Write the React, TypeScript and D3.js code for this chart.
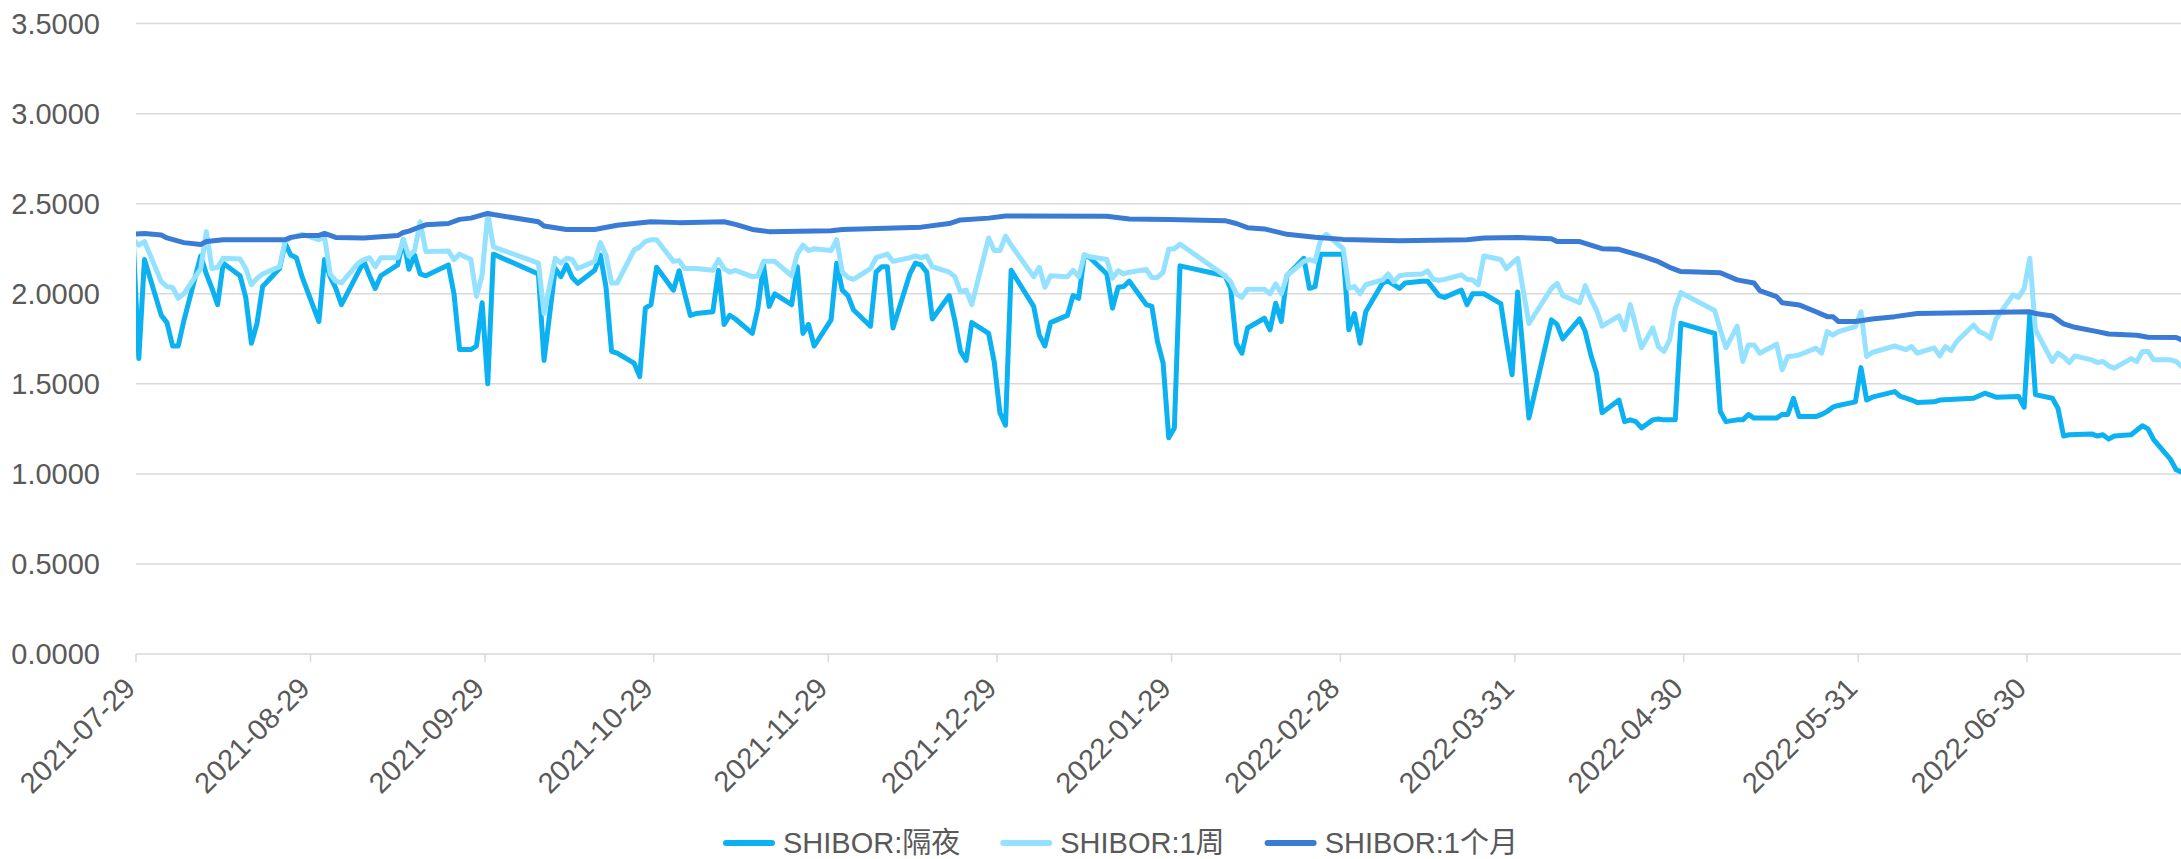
import React, { useEffect, useRef } from 'react';
import * as d3 from 'd3';

type Point = [string, number];

// SHIBOR overnight
const overnight: Point[] = [
  ['2021-07-28', 2.30], ['2021-07-29', 1.64], ['2021-07-30', 2.19], ['2021-08-02', 1.88], ['2021-08-03', 1.84],
  ['2021-08-04', 1.71], ['2021-08-05', 1.71], ['2021-08-06', 1.85], ['2021-08-09', 2.21], ['2021-08-10', 2.11],
  ['2021-08-11', 2.03], ['2021-08-12', 1.94], ['2021-08-13', 2.17], ['2021-08-16', 2.10], ['2021-08-17', 1.98],
  ['2021-08-18', 1.725], ['2021-08-19', 1.835], ['2021-08-20', 2.04], ['2021-08-23', 2.14], ['2021-08-24', 2.28],
  ['2021-08-25', 2.215], ['2021-08-26', 2.20], ['2021-08-27', 2.095], ['2021-08-30', 1.846], ['2021-08-31', 2.19],
  ['2021-09-01', 2.095], ['2021-09-02', 2.03], ['2021-09-03', 1.94], ['2021-09-06', 2.12], ['2021-09-07', 2.18],
  ['2021-09-08', 2.10], ['2021-09-09', 2.03], ['2021-09-10', 2.10], ['2021-09-13', 2.16], ['2021-09-14', 2.30],
  ['2021-09-15', 2.136], ['2021-09-16', 2.215], ['2021-09-17', 2.11], ['2021-09-18', 2.10], ['2021-09-22', 2.16],
  ['2021-09-23', 2.00], ['2021-09-24', 1.69], ['2021-09-26', 1.69], ['2021-09-27', 1.71], ['2021-09-28', 1.95],
  ['2021-09-29', 1.50], ['2021-09-30', 2.22], ['2021-10-08', 2.11], ['2021-10-09', 1.63], ['2021-10-11', 2.14],
  ['2021-10-12', 2.095], ['2021-10-13', 2.16], ['2021-10-14', 2.09], ['2021-10-15', 2.058], ['2021-10-18', 2.13],
  ['2021-10-19', 2.215], ['2021-10-20', 2.04], ['2021-10-21', 1.68], ['2021-10-22', 1.67], ['2021-10-25', 1.615],
  ['2021-10-26', 1.54], ['2021-10-27', 1.92], ['2021-10-28', 1.94], ['2021-10-29', 2.147], ['2021-11-01', 2.02],
  ['2021-11-02', 2.128], ['2021-11-03', 2.00], ['2021-11-04', 1.88], ['2021-11-05', 1.89], ['2021-11-08', 1.90],
  ['2021-11-09', 2.13], ['2021-11-10', 1.83], ['2021-11-11', 1.88], ['2021-11-12', 1.86], ['2021-11-15', 1.78],
  ['2021-11-16', 1.92], ['2021-11-17', 2.16], ['2021-11-18', 1.93], ['2021-11-19', 2.00], ['2021-11-22', 1.94],
  ['2021-11-23', 2.15], ['2021-11-24', 1.78], ['2021-11-25', 1.83], ['2021-11-26', 1.71], ['2021-11-29', 1.855],
  ['2021-11-30', 2.17], ['2021-12-01', 2.02], ['2021-12-02', 1.99], ['2021-12-03', 1.91], ['2021-12-06', 1.82],
  ['2021-12-07', 2.12], ['2021-12-08', 2.15], ['2021-12-09', 2.15], ['2021-12-10', 1.81], ['2021-12-13', 2.11],
  ['2021-12-14', 2.17], ['2021-12-15', 2.16], ['2021-12-16', 2.12], ['2021-12-17', 1.86], ['2021-12-20', 1.99],
  ['2021-12-21', 1.85], ['2021-12-22', 1.68], ['2021-12-23', 1.63], ['2021-12-24', 1.84], ['2021-12-27', 1.78],
  ['2021-12-28', 1.62], ['2021-12-29', 1.34], ['2021-12-30', 1.27], ['2021-12-31', 2.13], ['2022-01-04', 1.93],
  ['2022-01-05', 1.77], ['2022-01-06', 1.71], ['2022-01-07', 1.84], ['2022-01-10', 1.88], ['2022-01-11', 1.99],
  ['2022-01-12', 1.975], ['2022-01-13', 2.215], ['2022-01-14', 2.20], ['2022-01-17', 2.11], ['2022-01-18', 1.92],
  ['2022-01-19', 2.036], ['2022-01-20', 2.04], ['2022-01-21', 2.07], ['2022-01-24', 1.94], ['2022-01-25', 1.93],
  ['2022-01-26', 1.735], ['2022-01-27', 1.615], ['2022-01-28', 1.20], ['2022-01-29', 1.255], ['2022-01-30', 2.155],
  ['2022-02-07', 2.10], ['2022-02-08', 2.03], ['2022-02-09', 1.725], ['2022-02-10', 1.67], ['2022-02-11', 1.81],
  ['2022-02-14', 1.864], ['2022-02-15', 1.80], ['2022-02-16', 1.947], ['2022-02-17', 1.846], ['2022-02-18', 2.10],
  ['2022-02-21', 2.197], ['2022-02-22', 2.03], ['2022-02-23', 2.04], ['2022-02-24', 2.22], ['2022-02-25', 2.22],
  ['2022-02-28', 2.22], ['2022-03-01', 1.80], ['2022-03-02', 1.89], ['2022-03-03', 1.725], ['2022-03-04', 1.90],
  ['2022-03-07', 2.06], ['2022-03-08', 2.07], ['2022-03-09', 2.05], ['2022-03-10', 2.03], ['2022-03-11', 2.06],
  ['2022-03-14', 2.07], ['2022-03-15', 2.07], ['2022-03-16', 2.03], ['2022-03-17', 1.99], ['2022-03-18', 1.98],
  ['2022-03-21', 2.02], ['2022-03-22', 1.94], ['2022-03-23', 2.00], ['2022-03-24', 2.00], ['2022-03-25', 2.00],
  ['2022-03-28', 1.945], ['2022-03-29', 1.74], ['2022-03-30', 1.55], ['2022-03-31', 2.01], ['2022-04-02', 1.31],
  ['2022-04-06', 1.855], ['2022-04-07', 1.83], ['2022-04-08', 1.75], ['2022-04-11', 1.86], ['2022-04-12', 1.79],
  ['2022-04-13', 1.66], ['2022-04-14', 1.56], ['2022-04-15', 1.34], ['2022-04-18', 1.41], ['2022-04-19', 1.29],
  ['2022-04-20', 1.30], ['2022-04-21', 1.29], ['2022-04-22', 1.255], ['2022-04-24', 1.30], ['2022-04-25', 1.305],
  ['2022-04-26', 1.30], ['2022-04-27', 1.30], ['2022-04-28', 1.30], ['2022-04-29', 1.836], ['2022-05-05', 1.78],
  ['2022-05-06', 1.347], ['2022-05-07', 1.29], ['2022-05-09', 1.30], ['2022-05-10', 1.30], ['2022-05-11', 1.33],
  ['2022-05-12', 1.31], ['2022-05-13', 1.31], ['2022-05-16', 1.31], ['2022-05-17', 1.33], ['2022-05-18', 1.33],
  ['2022-05-19', 1.42], ['2022-05-20', 1.318], ['2022-05-23', 1.318], ['2022-05-24', 1.33], ['2022-05-25', 1.347],
  ['2022-05-26', 1.37], ['2022-05-27', 1.38], ['2022-05-30', 1.40], ['2022-05-31', 1.59], ['2022-06-01', 1.41],
  ['2022-06-02', 1.426], ['2022-06-06', 1.457], ['2022-06-07', 1.43], ['2022-06-08', 1.42], ['2022-06-09', 1.41],
  ['2022-06-10', 1.396], ['2022-06-13', 1.40], ['2022-06-14', 1.41], ['2022-06-20', 1.42], ['2022-06-22', 1.448],
  ['2022-06-24', 1.426], ['2022-06-28', 1.43], ['2022-06-29', 1.37], ['2022-06-30', 1.89], ['2022-07-01', 1.44],
  ['2022-07-04', 1.42], ['2022-07-05', 1.365], ['2022-07-06', 1.21], ['2022-07-07', 1.217], ['2022-07-11', 1.222],
  ['2022-07-12', 1.21], ['2022-07-13', 1.217], ['2022-07-14', 1.193], ['2022-07-15', 1.21], ['2022-07-18', 1.217],
  ['2022-07-20', 1.267], ['2022-07-21', 1.25], ['2022-07-22', 1.19], ['2022-07-25', 1.08], ['2022-07-26', 1.023],
  ['2022-07-27', 1.01],
];

// SHIBOR 1 week
const week: Point[] = [
  ['2021-07-28', 2.30], ['2021-07-29', 2.27], ['2021-07-30', 2.29], ['2021-08-02', 2.067], ['2021-08-03', 2.04],
  ['2021-08-04', 2.035], ['2021-08-05', 1.975], ['2021-08-06', 2.00], ['2021-08-09', 2.14], ['2021-08-10', 2.345],
  ['2021-08-11', 2.14], ['2021-08-12', 2.147], ['2021-08-13', 2.197], ['2021-08-16', 2.193], ['2021-08-17', 2.14],
  ['2021-08-18', 2.05], ['2021-08-19', 2.086], ['2021-08-20', 2.11], ['2021-08-23', 2.15], ['2021-08-24', 2.29],
  ['2021-08-25', 2.31], ['2021-08-26', 2.32], ['2021-08-27', 2.33], ['2021-08-30', 2.30], ['2021-08-31', 2.317],
  ['2021-09-01', 2.11], ['2021-09-02', 2.07], ['2021-09-03', 2.06], ['2021-09-06', 2.17], ['2021-09-07', 2.19],
  ['2021-09-08', 2.20], ['2021-09-09', 2.15], ['2021-09-10', 2.20], ['2021-09-13', 2.20], ['2021-09-14', 2.30],
  ['2021-09-15', 2.21], ['2021-09-16', 2.24], ['2021-09-17', 2.40], ['2021-09-18', 2.234], ['2021-09-22', 2.238],
  ['2021-09-23', 2.19], ['2021-09-24', 2.22], ['2021-09-26', 2.19], ['2021-09-27', 1.985], ['2021-09-28', 2.105],
  ['2021-09-29', 2.446], ['2021-09-30', 2.26], ['2021-10-08', 2.17], ['2021-10-09', 1.89], ['2021-10-11', 2.197],
  ['2021-10-12', 2.17], ['2021-10-13', 2.197], ['2021-10-14', 2.19], ['2021-10-15', 2.14], ['2021-10-18', 2.18],
  ['2021-10-19', 2.284], ['2021-10-20', 2.215], ['2021-10-21', 2.06], ['2021-10-22', 2.06], ['2021-10-25', 2.243],
  ['2021-10-26', 2.26], ['2021-10-27', 2.29], ['2021-10-28', 2.30], ['2021-10-29', 2.30], ['2021-11-01', 2.18],
  ['2021-11-02', 2.184], ['2021-11-03', 2.14], ['2021-11-04', 2.14], ['2021-11-05', 2.14], ['2021-11-08', 2.13],
  ['2021-11-09', 2.19], ['2021-11-10', 2.14], ['2021-11-11', 2.12], ['2021-11-12', 2.13], ['2021-11-15', 2.095],
  ['2021-11-16', 2.10], ['2021-11-17', 2.18], ['2021-11-18', 2.18], ['2021-11-19', 2.18], ['2021-11-22', 2.10],
  ['2021-11-23', 2.22], ['2021-11-24', 2.27], ['2021-11-25', 2.24], ['2021-11-26', 2.25], ['2021-11-29', 2.24],
  ['2021-11-30', 2.30], ['2021-12-01', 2.12], ['2021-12-02', 2.09], ['2021-12-03', 2.08], ['2021-12-06', 2.14],
  ['2021-12-07', 2.20], ['2021-12-08', 2.21], ['2021-12-09', 2.22], ['2021-12-10', 2.18], ['2021-12-13', 2.20],
  ['2021-12-14', 2.21], ['2021-12-15', 2.20], ['2021-12-16', 2.21], ['2021-12-17', 2.15], ['2021-12-20', 2.12],
  ['2021-12-21', 2.095], ['2021-12-22', 2.01], ['2021-12-23', 2.02], ['2021-12-24', 1.94], ['2021-12-27', 2.31],
  ['2021-12-28', 2.24], ['2021-12-29', 2.24], ['2021-12-30', 2.32], ['2021-12-31', 2.27], ['2022-01-04', 2.095],
  ['2022-01-05', 2.147], ['2022-01-06', 2.036], ['2022-01-07', 2.10], ['2022-01-10', 2.095], ['2022-01-11', 2.13],
  ['2022-01-12', 2.095], ['2022-01-13', 2.215], ['2022-01-14', 2.206], ['2022-01-17', 2.19], ['2022-01-18', 2.086],
  ['2022-01-19', 2.128], ['2022-01-20', 2.11], ['2022-01-21', 2.12], ['2022-01-24', 2.135], ['2022-01-25', 2.09],
  ['2022-01-26', 2.09], ['2022-01-27', 2.12], ['2022-01-28', 2.247], ['2022-01-29', 2.25], ['2022-01-30', 2.276],
  ['2022-02-07', 2.10], ['2022-02-08', 2.067], ['2022-02-09', 2.00], ['2022-02-10', 1.98], ['2022-02-11', 2.025],
  ['2022-02-14', 2.025], ['2022-02-15', 2.00], ['2022-02-16', 2.055], ['2022-02-17', 2.00], ['2022-02-18', 2.10],
  ['2022-02-21', 2.18], ['2022-02-22', 2.19], ['2022-02-23', 2.18], ['2022-02-24', 2.30], ['2022-02-25', 2.33],
  ['2022-02-28', 2.25], ['2022-03-01', 2.03], ['2022-03-02', 2.04], ['2022-03-03', 2.00], ['2022-03-04', 2.05],
  ['2022-03-07', 2.077], ['2022-03-08', 2.11], ['2022-03-09', 2.067], ['2022-03-10', 2.10], ['2022-03-11', 2.105],
  ['2022-03-14', 2.11], ['2022-03-15', 2.127], ['2022-03-16', 2.08], ['2022-03-17', 2.075], ['2022-03-18', 2.08],
  ['2022-03-21', 2.105], ['2022-03-22', 2.08], ['2022-03-23', 2.077], ['2022-03-24', 2.05], ['2022-03-25', 2.21],
  ['2022-03-28', 2.19], ['2022-03-29', 2.14], ['2022-03-30', 2.17], ['2022-03-31', 2.197], ['2022-04-02', 1.835],
  ['2022-04-06', 2.03], ['2022-04-07', 2.058], ['2022-04-08', 1.99], ['2022-04-11', 1.95], ['2022-04-12', 2.045],
  ['2022-04-13', 1.97], ['2022-04-14', 1.91], ['2022-04-15', 1.82], ['2022-04-18', 1.877], ['2022-04-19', 1.80],
  ['2022-04-20', 1.94], ['2022-04-21', 1.82], ['2022-04-22', 1.70], ['2022-04-24', 1.81], ['2022-04-25', 1.707],
  ['2022-04-26', 1.68], ['2022-04-27', 1.744], ['2022-04-28', 1.92], ['2022-04-29', 2.006], ['2022-05-05', 1.907],
  ['2022-05-06', 1.80], ['2022-05-07', 1.70], ['2022-05-09', 1.82], ['2022-05-10', 1.624], ['2022-05-11', 1.716],
  ['2022-05-12', 1.716], ['2022-05-13', 1.67], ['2022-05-16', 1.72], ['2022-05-17', 1.578], ['2022-05-18', 1.652],
  ['2022-05-19', 1.655], ['2022-05-20', 1.66], ['2022-05-23', 1.698], ['2022-05-24', 1.67], ['2022-05-25', 1.79],
  ['2022-05-26', 1.77], ['2022-05-27', 1.79], ['2022-05-30', 1.818], ['2022-05-31', 1.90], ['2022-06-01', 1.652],
  ['2022-06-02', 1.674], ['2022-06-06', 1.71], ['2022-06-07', 1.70], ['2022-06-08', 1.69], ['2022-06-09', 1.707],
  ['2022-06-10', 1.67], ['2022-06-13', 1.70], ['2022-06-14', 1.655], ['2022-06-15', 1.707], ['2022-06-16', 1.685],
  ['2022-06-17', 1.735], ['2022-06-20', 1.827], ['2022-06-21', 1.79], ['2022-06-22', 1.777], ['2022-06-23', 1.753],
  ['2022-06-24', 1.86], ['2022-06-27', 1.994], ['2022-06-28', 1.98], ['2022-06-29', 2.03], ['2022-06-30', 2.197],
  ['2022-07-01', 1.80], ['2022-07-04', 1.624], ['2022-07-05', 1.67], ['2022-07-06', 1.65], ['2022-07-07', 1.618],
  ['2022-07-08', 1.655], ['2022-07-11', 1.633], ['2022-07-12', 1.618], ['2022-07-13', 1.624], ['2022-07-14', 1.60],
  ['2022-07-15', 1.587], ['2022-07-18', 1.64], ['2022-07-19', 1.624], ['2022-07-20', 1.68], ['2022-07-21', 1.68],
  ['2022-07-22', 1.633], ['2022-07-25', 1.633], ['2022-07-26', 1.624], ['2022-07-27', 1.596],
];

// SHIBOR 1 month
const month: Point[] = [
  ['2021-07-28', 2.33], ['2021-07-30', 2.335], ['2021-08-02', 2.326], ['2021-08-03', 2.31], ['2021-08-06', 2.284],
  ['2021-08-09', 2.274], ['2021-08-10', 2.29], ['2021-08-13', 2.30], ['2021-08-24', 2.30], ['2021-08-25', 2.313],
  ['2021-08-27', 2.323], ['2021-08-30', 2.324], ['2021-08-31', 2.335], ['2021-09-02', 2.313], ['2021-09-07', 2.31],
  ['2021-09-13', 2.323], ['2021-09-14', 2.34], ['2021-09-15', 2.348], ['2021-09-17', 2.372], ['2021-09-18', 2.383],
  ['2021-09-22', 2.39], ['2021-09-24', 2.413], ['2021-09-26', 2.42], ['2021-09-29', 2.446], ['2021-09-30', 2.44],
  ['2021-10-08', 2.40], ['2021-10-09', 2.376], ['2021-10-13', 2.357], ['2021-10-18', 2.357], ['2021-10-22', 2.38],
  ['2021-10-28', 2.40], ['2021-11-02', 2.395], ['2021-11-10', 2.40], ['2021-11-12', 2.385], ['2021-11-15', 2.357],
  ['2021-11-18', 2.345], ['2021-11-29', 2.35], ['2021-12-01', 2.357], ['2021-12-15', 2.37], ['2021-12-20', 2.39],
  ['2021-12-22', 2.41], ['2021-12-27', 2.42], ['2021-12-30', 2.432], ['2022-01-17', 2.43], ['2022-01-21', 2.415],
  ['2022-01-28', 2.413], ['2022-02-07', 2.406], ['2022-02-09', 2.39], ['2022-02-11', 2.367], ['2022-02-14', 2.36],
  ['2022-02-18', 2.33], ['2022-02-23', 2.314], ['2022-02-28', 2.302], ['2022-03-10', 2.295], ['2022-03-22', 2.30],
  ['2022-03-25', 2.31], ['2022-03-31', 2.313], ['2022-04-06', 2.306], ['2022-04-07', 2.29], ['2022-04-11', 2.29],
  ['2022-04-13', 2.27], ['2022-04-15', 2.25], ['2022-04-18', 2.247], ['2022-04-22', 2.21], ['2022-04-25', 2.178],
  ['2022-04-27', 2.147], ['2022-04-29', 2.123], ['2022-05-06', 2.117], ['2022-05-09', 2.077], ['2022-05-12', 2.06],
  ['2022-05-13', 2.018], ['2022-05-16', 1.984], ['2022-05-17', 1.95], ['2022-05-20', 1.938], ['2022-05-23', 1.90],
  ['2022-05-25', 1.873], ['2022-05-26', 1.873], ['2022-05-27', 1.846], ['2022-05-30', 1.846], ['2022-06-02', 1.86],
  ['2022-06-06', 1.873], ['2022-06-10', 1.89], ['2022-06-30', 1.90], ['2022-07-01', 1.89], ['2022-07-04', 1.877],
  ['2022-07-05', 1.855], ['2022-07-06', 1.833], ['2022-07-08', 1.814], ['2022-07-12', 1.79], ['2022-07-14', 1.777],
  ['2022-07-19', 1.77], ['2022-07-21', 1.759], ['2022-07-26', 1.757], ['2022-07-27', 1.744],
];

const seriesNames = ['SHIBOR:隔夜', 'SHIBOR:1周', 'SHIBOR:1个月'];
const seriesColors = ['#0cb1f1', '#94e2ff', '#3a7bd5'];

const xTickLabels = [
  '2021-07-29', '2021-08-29', '2021-09-29', '2021-10-29', '2021-11-29', '2021-12-29',
  '2022-01-29', '2022-02-28', '2022-03-31', '2022-04-30', '2022-05-31', '2022-06-30',
];
const yTicks = [0, 0.5, 1, 1.5, 2, 2.5, 3, 3.5];

const W = 2181;
const H = 859;
const FONT = "'Liberation Sans', Arial, 'Noto Sans CJK SC', sans-serif";

const App = () => {
  const svgRef = useRef<SVGSVGElement>(null);

  useEffect(() => {
    document.body.style.margin = '0';
    const svg = d3.select(svgRef.current);
    svg.selectAll('*').remove();

    const left = 136;
    const pxPerDay = 5.628;
    const parse = d3.timeParse('%Y-%m-%d');

    const x = d3.scaleTime()
      .domain([parse('2021-07-29') as Date, parse('2022-07-29') as Date])
      .range([left, left + 365 * pxPerDay]);
    const y = d3.scaleLinear().domain([0, 3.5]).range([654, 23.6]);

    // gridlines
    svg.append('g')
      .selectAll('line')
      .data(yTicks)
      .join('line')
      .attr('x1', left)
      .attr('x2', W)
      .attr('y1', d => y(d))
      .attr('y2', d => y(d))
      .attr('stroke', '#d9d9d9')
      .attr('stroke-width', 1.5);

    // y labels
    svg.append('g')
      .selectAll('text')
      .data(yTicks)
      .join('text')
      .attr('x', 100)
      .attr('y', d => y(d))
      .attr('text-anchor', 'end')
      .attr('dominant-baseline', 'central')
      .style('font-family', FONT)
      .style('font-size', '29px')
      .style('fill', '#595959')
      .text(d => d3.format('.4f')(d));

    // x ticks and labels
    const tickDates = xTickLabels.map(s => parse(s) as Date);
    svg.append('g')
      .selectAll('line')
      .data(tickDates)
      .join('line')
      .attr('x1', d => x(d))
      .attr('x2', d => x(d))
      .attr('y1', y(0))
      .attr('y2', y(0) + 8)
      .attr('stroke', '#d9d9d9')
      .attr('stroke-width', 1.5);

    svg.append('g')
      .selectAll('text')
      .data(xTickLabels)
      .join('text')
      .attr('transform', d => `translate(${x(parse(d) as Date) + 1},690) rotate(-45)`)
      .attr('text-anchor', 'end')
      .style('font-family', FONT)
      .style('font-size', '29px')
      .style('fill', '#595959')
      .text(d => d);

    // lines
    svg.append('defs')
      .append('clipPath')
      .attr('id', 'plot-clip')
      .append('rect')
      .attr('x', left)
      .attr('y', 0)
      .attr('width', W - left)
      .attr('height', H);

    const line = d3.line<Point>()
      .x(d => x(d3.timeHour.offset(parse(d[0]) as Date, 12)))
      .y(d => y(d[1]));

    const allSeries = [overnight, week, month];
    svg.append('g')
      .attr('clip-path', 'url(#plot-clip)')
      .selectAll('path')
      .data(allSeries)
      .join('path')
      .attr('d', d => line(d))
      .attr('fill', 'none')
      .attr('stroke', (_, i) => seriesColors[i])
      .attr('stroke-width', 5)
      .attr('stroke-linejoin', 'round')
      .attr('stroke-linecap', 'round');

    // legend
    const legend = svg.append('g');
    let lx = 723;
    const ly = 843;
    seriesNames.forEach((name, i) => {
      legend.append('line')
        .attr('x1', lx + 3)
        .attr('x2', lx + 49)
        .attr('y1', ly)
        .attr('y2', ly)
        .attr('stroke', seriesColors[i])
        .attr('stroke-width', 6)
        .attr('stroke-linecap', 'round');
      const t = legend.append('text')
        .attr('x', lx + 60)
        .attr('y', ly)
        .attr('dominant-baseline', 'central')
        .style('font-family', FONT)
        .style('font-size', '29px')
        .style('fill', '#595959')
        .text(name);
      const w = (t.node() as SVGTextElement).getComputedTextLength();
      lx = lx + 60 + w + 40;
    });
  }, []);

  return <svg ref={svgRef} width={W} height={H} style={{ display: 'block', background: '#fff' }} />;
};

export default App;
